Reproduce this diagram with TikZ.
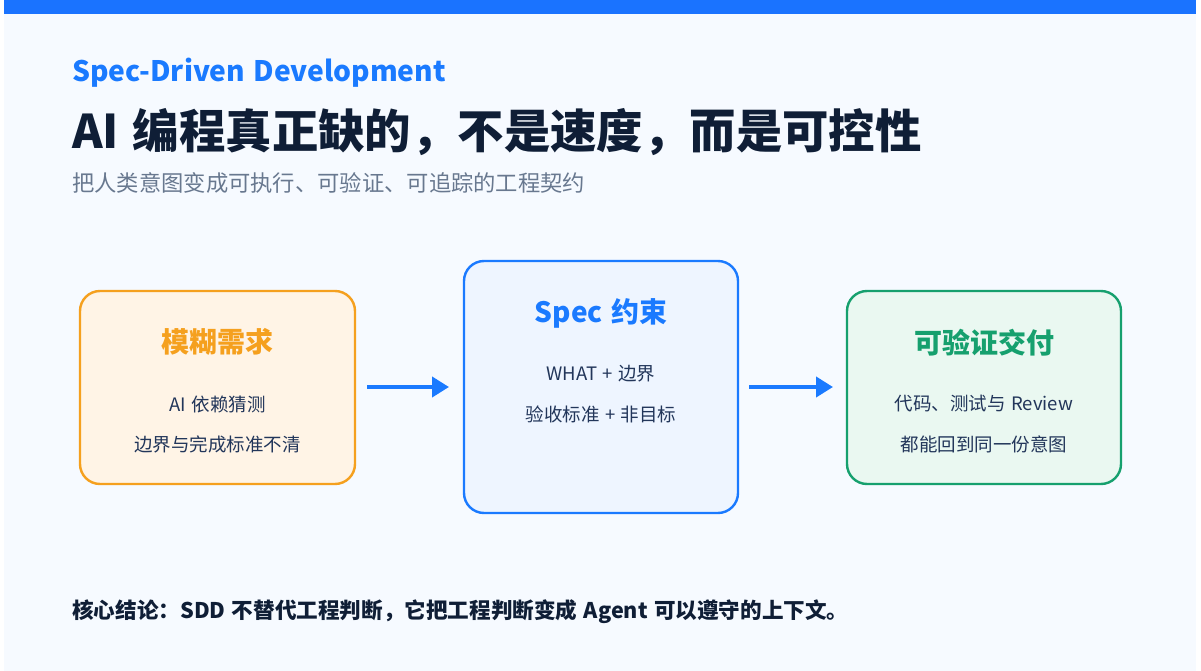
\documentclass[tikz,border=0pt]{standalone}
\usepackage{fontspec}
\setmainfont{Noto Sans CJK SC}[WordSpace=1.3]
\usetikzlibrary{arrows.meta}
\definecolor{bgc}{HTML}{F6FAFF}
\definecolor{topbar}{HTML}{1A73FF}
\definecolor{bluec}{HTML}{1A7AFF}
\definecolor{navy}{HTML}{0F1E36}
\definecolor{graytxt}{HTML}{68788F}
\definecolor{bodytxt}{HTML}{22365A}
\definecolor{orangec}{HTML}{F5A01E}
\definecolor{orangefill}{HTML}{FFF4E6}
\definecolor{bluefill}{HTML}{EEF5FF}
\definecolor{greenc}{HTML}{16A06E}
\definecolor{greenfill}{HTML}{EAF8F1}
\tikzset{
  card/.style={draw, line width=2.4pt, rounded corners=20pt, inner sep=0pt},
  cardtitle/.style={font=\fontsize{28}{32}\selectfont\bfseries, inner sep=0pt},
  cardline/.style={font=\fontsize{18.5}{22}\selectfont, text=bodytxt, inner sep=0pt},
  flow/.style={draw=bluec, line width=4pt, -{Triangle[length=17pt,width=20pt]}},
}
\begin{document}
\begin{tikzpicture}[x=1pt,y=-1pt]
\useasboundingbox (0,0) rectangle (1201,671);
\fill[white] (0,0) rectangle (1201,671);
\fill[bgc] (4,0) rectangle (1196,671);
\fill[topbar] (4,0) rectangle (1196,14);

\node[anchor=base west, inner sep=0pt, text=bluec, font=\fontsize{28.2}{30}\selectfont\bfseries] (kicker) at (72,82) {Spec-Driven Development};
\node[anchor=base west, inner sep=0pt, text=navy, font=\fontsize{46.4}{52}\selectfont\bfseries] (title) at (72,149) {AI 编程真正缺的，不是速度，而是可控性};
\node[anchor=base west, inner sep=0pt, text=graytxt, font=\fontsize{22.3}{26}\selectfont] (sub) at (72,192) {把人类意图变成可执行、可验证、可追踪的工程契约};

\node[card, draw=orangec, fill=orangefill, minimum width=275pt, minimum height=193pt] (b1) at (217.5,387.5) {};
\node[card, draw=bluec, fill=bluefill, minimum width=274pt, minimum height=252pt] (b2) at (601,387) {};
\node[card, draw=greenc, fill=greenfill, minimum width=274pt, minimum height=193pt] (b3) at (984,387.5) {};

\node[cardtitle, text=orangec] (t1) at (217.5,342) {模糊需求};
\node[cardline] (l1a) at (217.5,404) {AI 依赖猜测};
\node[cardline] (l1b) at (217.5,444) {边界与完成标准不清};

\node[cardtitle, text=bluec] (t2) at (601,313) {Spec 约束};
\node[cardline] (l2a) at (601,374) {WHAT + 边界};
\node[cardline] (l2b) at (601,414) {验收标准 + 非目标};

\node[cardtitle, text=greenc] (t3) at (984,343) {可验证交付};
\node[cardline] (l3a) at (984,404) {代码、测试与 Review};
\node[cardline] (l3b) at (984,444) {都能回到同一份意图};

\coordinate (a1s) at (367,387);
\coordinate (a1e) at (449,387);
\coordinate (a2s) at (749,387);
\coordinate (a2e) at (833,387);
\draw[flow] (a1s) -- (a1e);
\draw[flow] (a2s) -- (a2e);

\node[anchor=base west, inner sep=0pt, text=navy, font=\fontsize{21.6}{24}\selectfont\bfseries] (concl) at (72,618) {核心结论：SDD 不替代工程判断，它把工程判断变成 Agent 可以遵守的上下文。};
\end{tikzpicture}
\end{document}
